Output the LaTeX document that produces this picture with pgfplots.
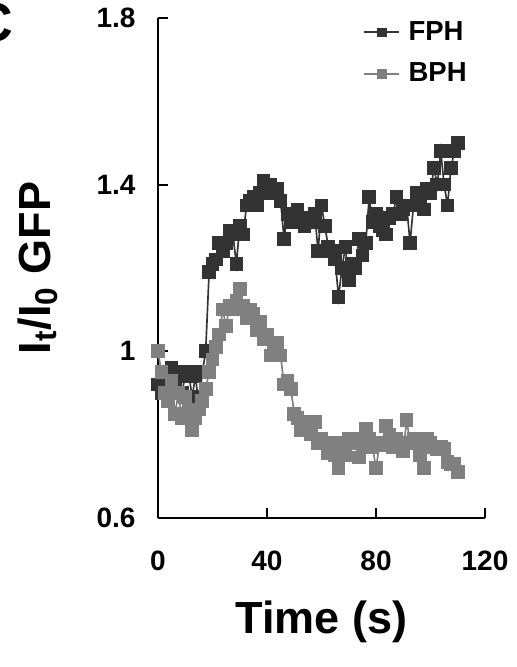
\documentclass[border=0pt]{standalone}
\usepackage{pgfplots}
\pgfplotsset{compat=1.18}
\usepackage{fontspec}
\setmainfont{Liberation Sans}
\definecolor{fph}{HTML}{333333}
\definecolor{bph}{HTML}{808080}
\begin{document}
\begin{tikzpicture}
\begin{axis}[
    at={(0,0)}, anchor=south west,
    scale only axis,
    width=196.2pt, height=300pt,
    xmin=0, xmax=120, ymin=0.6, ymax=1.8,
    xtick={0,40,80,120},
    ytick={0.6,1,1.4,1.8},
    axis lines*=left,
    axis line style={line width=1.2pt},
    tick style={line width=1.2pt, black},
    tick align=inside,
    major tick length=6pt,
    /pgf/number format/assume math mode=true,
    tick label style={font=\fontsize{16.8}{18}\selectfont\bfseries},
    xticklabel shift=16pt,
    yticklabel shift=10pt,
    xlabel={Time (s)},
    xlabel style={font=\fontsize{27}{30}\selectfont\bfseries, anchor=center, at={(axis description cs:0.5,-0.208)}},
    ylabel={I\textsubscript{t}/I\textsubscript{0} GFP},
    ylabel style={font=\fontsize{27}{30}\selectfont\bfseries, anchor=center, rotate=0, at={(axis description cs:-0.367,0.5)}},
    legend style={at={(axis description cs:0.955,1.0)}, anchor=north east, draw=none, fill=none,
        font=\fontsize{16.5}{18}\selectfont\bfseries, row sep=8pt, inner sep=0pt,
        nodes={inner sep=2pt},
        /tikz/every odd column/.append style={column sep=3pt}},
    legend image code/.code={\draw[line width=1.2pt, mark repeat=2,mark phase=2,mark size=2.3pt] plot coordinates {(0cm,0cm) (0.37cm,0cm) (0.74cm,0cm)};},
    legend cell align=left,
]
\addplot[color=fph, line width=1pt, mark=square*, mark size=3.6pt, mark options={solid, fill=fph, draw=none}]
coordinates {
(0,0.92)(1.25,0.90)(2.5,0.93)(3.75,0.91)(5,0.96)(6.25,0.92)(7.5,0.95)(8.75,0.90)(10,0.94)(11.25,0.95)
(12.5,0.89)(13.75,0.94)(15,0.87)(16.25,0.95)(17.5,1.00)(18.75,1.19)(20,1.21)(21.25,1.22)(22.5,1.26)(23.75,1.24)
(25,1.26)(26.25,1.29)(27.5,1.28)(28.75,1.21)(30,1.30)(31.25,1.28)(32.5,1.35)(33.75,1.36)(35,1.37)(36.25,1.35)
(37.5,1.38)(38.75,1.41)(40,1.39)(41.25,1.40)(42.5,1.38)(43.75,1.39)(45,1.36)(46.25,1.27)(47.5,1.33)(48.75,1.31)
(50,1.32)(51.25,1.34)(52.5,1.31)(53.75,1.30)(55,1.32)(56.25,1.31)(57.5,1.33)(58.75,1.24)(60,1.35)(61.25,1.30)
(62.5,1.25)(63.75,1.24)(65,1.22)(66.25,1.13)(67.5,1.20)(68.75,1.25)(70,1.17)(71.25,1.21)(72.5,1.20)(73.75,1.27)
(75,1.23)(76.25,1.26)(77.5,1.37)(78.75,1.31)(80,1.33)(81.25,1.30)(82.5,1.29)(83.75,1.28)(85,1.32)(86.25,1.33)
(87.5,1.37)(88.75,1.33)(90,1.34)(91.25,1.35)(92.5,1.26)(93.75,1.35)(95,1.38)(96.25,1.36)(97.5,1.34)(98.75,1.39)
(100,1.38)(101.25,1.44)(102.5,1.40)(103.75,1.48)(105,1.40)(106.25,1.35)(107.5,1.44)(108.75,1.48)(110,1.50)
};
\addlegendentry{FPH}
\addplot[color=bph, line width=1pt, mark=square*, mark size=3.6pt, mark options={solid, fill=bph, draw=none}]
coordinates {
(0,1.00)(1.25,0.95)(2.5,0.90)(3.75,0.88)(5,0.93)(6.25,0.85)(7.5,0.90)(8.75,0.84)(10,0.89)(11.25,0.86)
(12.5,0.81)(13.75,0.84)(15,0.86)(16.25,0.88)(17.5,0.91)(18.75,0.95)(20,0.98)(21.25,1.01)(22.5,1.04)(23.75,1.10)
(25,1.06)(26.25,1.11)(27.5,1.10)(28.75,1.12)(30,1.15)(31.25,1.11)(32.5,1.08)(33.75,1.10)(35,1.09)(36.25,1.05)
(37.5,1.07)(38.75,1.03)(40,1.04)(41.25,0.99)(42.5,1.02)(43.75,1.02)(45,0.99)(46.25,0.92)(47.5,0.93)(48.75,0.91)
(50,0.85)(51.25,0.84)(52.5,0.81)(53.75,0.83)(55,0.82)(56.25,0.80)(57.5,0.83)(58.75,0.78)(60,0.79)(61.25,0.78)
(62.5,0.755)(63.75,0.78)(65,0.75)(66.25,0.72)(67.5,0.78)(68.75,0.75)(70,0.79)(71.25,0.78)(72.5,0.79)(73.75,0.745)
(75,0.77)(76.25,0.815)(77.5,0.79)(78.75,0.77)(80,0.72)(81.25,0.775)(82.5,0.78)(83.75,0.82)(85,0.80)(86.25,0.77)
(87.5,0.79)(88.75,0.78)(90,0.76)(91.25,0.835)(92.5,0.78)(93.75,0.79)(95,0.78)(96.25,0.75)(97.5,0.72)(98.75,0.79)
(100,0.78)(101.25,0.77)(102.5,0.765)(103.75,0.77)(105,0.765)(106.25,0.735)(107.5,0.73)(108.75,0.73)(110,0.71)
};
\addlegendentry{BPH}
\end{axis}
\node[font=\fontsize{33}{36}\selectfont\bfseries, anchor=center] at (-99pt,297pt) {C};
\pgfresetboundingbox
\useasboundingbox (-94.8pt,-89.4pt) rectangle (214.8pt,310.8pt);
\end{tikzpicture}
\end{document}
